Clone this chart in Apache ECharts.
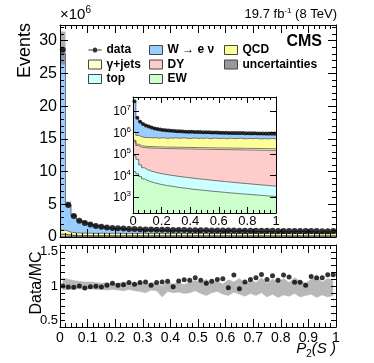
<!DOCTYPE html>
<html>
<head>
<meta charset="utf-8">
<script src="https://cdn.jsdelivr.net/npm/echarts@6/dist/echarts.min.js"></script>
<style>
  html, body { margin: 0; padding: 0; background: #fff; }
  #chart { width: 374px; height: 363px; }
</style>
</head>
<body>
<div id="chart"></div>
<script>
// yields in thousands of events, 50 bins of P2(S) between 0 and 1
const binEdges = [0, 0.02, 0.04, 0.06, 0.08, 0.1, 0.12, 0.14, 0.16, 0.18, 0.2,
  0.22, 0.24, 0.26, 0.28, 0.3, 0.32, 0.34, 0.36, 0.38, 0.4,
  0.42, 0.44, 0.46, 0.48, 0.5, 0.52, 0.54, 0.56, 0.58, 0.6,
  0.62, 0.64, 0.66, 0.68, 0.7, 0.72, 0.74, 0.76, 0.78, 0.8,
  0.82, 0.84, 0.86, 0.88, 0.9, 0.92, 0.94, 0.96, 0.98, 1];

const dataYield = [28600, 4900, 3200, 2500, 2150, 1900, 1700, 1550, 1450, 1380,
  1320, 1280, 1240, 1210, 1180, 1160, 1140, 1120, 1100, 1090,
  1080, 1070, 1060, 1050, 1040, 1030, 1020, 1010, 1000, 990,
  980, 980, 970, 960, 960, 950, 950, 940, 940, 930,
  930, 920, 920, 910, 910, 900, 900, 890, 890, 900];

const wYield = [27000, 4200, 2600, 1900, 1630, 1340, 1130, 990, 860, 750,
  740, 680, 610, 610, 550, 520, 560, 500, 470, 450,
  530, 440, 410, 410, 370, 400, 430, 390, 360, 340,
  450, 290, 460, 360, 330, 300, 270, 310, 270, 310,
  260, 270, 330, 320, 360, 250, 270, 260, 230, 240];

const qcdYield = [600, 450, 400, 360, 350, 360, 340, 370, 330, 350,
  360, 320, 350, 340, 370, 330, 350, 360, 340, 320,
  350, 360, 330, 350, 340, 370, 320, 350, 360, 330,
  340, 350, 320, 360, 340, 330, 350, 360, 320, 340,
  350, 330, 360, 340, 320, 350, 330, 340, 350, 330];

const gjetsYield = [50, 40, 35, 32, 31, 30, 30, 30, 30, 30,
  30, 30, 30, 30, 30, 30, 30, 30, 30, 30,
  30, 30, 30, 30, 30, 29, 29, 29, 29, 29,
  29, 29, 29, 29, 29, 29, 29, 29, 29, 29,
  29, 29, 29, 29, 29, 29, 29, 29, 29, 29];

const dyYield = [300, 190, 180, 178, 176, 175, 174, 173, 172, 171,
  170, 169.5, 169, 168, 167.5, 167, 166, 165.5, 165, 164,
  163.5, 163, 162, 161.5, 161, 160, 159.5, 159, 158, 157.5,
  157, 156, 155.5, 155, 154, 153.5, 153, 152, 151.5, 151,
  150, 149.5, 149, 148, 147.5, 147, 146, 145.5, 145, 144];

const topYield = [70, 45, 22, 16, 13, 11.5, 10.5, 9.7, 9.0, 8.5,
  8.0, 7.6, 7.2, 6.9, 6.6, 6.3, 6.05, 5.8, 5.6, 5.4,
  5.2, 5.0, 4.85, 4.7, 4.55, 4.4, 4.25, 4.1, 3.98, 3.86,
  3.74, 3.62, 3.51, 3.4, 3.3, 3.2, 3.1, 3.0, 2.92, 2.84,
  2.76, 2.68, 2.6, 2.53, 2.46, 2.4, 2.34, 2.28, 2.22, 2.16];

const ewYield = [15, 12, 9, 7, 6, 5.3, 4.8, 4.4, 4.1, 3.8,
  3.6, 3.4, 3.25, 3.1, 2.95, 2.8, 2.7, 2.6, 2.5, 2.4,
  2.3, 2.23, 2.16, 2.09, 2.02, 1.96, 1.9, 1.85, 1.8, 1.75,
  1.7, 1.65, 1.6, 1.56, 1.52, 1.48, 1.44, 1.4, 1.37, 1.34,
  1.31, 1.28, 1.25, 1.22, 1.19, 1.16, 1.13, 1.1, 1.08, 1.05];

// data / MC and the relative MC uncertainty band
const ratio = [1.00, 0.985, 0.98, 1.00, 0.97, 0.99, 0.995, 0.985, 1.01, 1.04,
  1.01, 1.02, 1.05, 1.025, 1.05, 1.06, 1.01, 1.05, 1.06, 1.07,
  0.99, 1.075, 1.09, 1.085, 1.12, 1.085, 1.04, 1.07, 1.095, 1.105,
  0.975, 1.16, 0.96, 1.06, 1.095, 1.12, 1.17, 1.095, 1.15, 1.085,
  1.16, 1.13, 1.055, 1.055, 1.01, 1.14, 1.12, 1.12, 1.165, 1.165];

const bandLow = [0.94, 0.95, 0.95, 0.96, 0.95, 0.96, 0.95, 0.95, 0.94, 0.95,
  0.94, 0.93, 0.95, 0.93, 0.92, 0.90, 0.94, 0.93, 0.84, 0.92,
  0.90, 0.91, 0.89, 0.90, 0.93, 0.89, 0.86, 0.90, 0.92, 0.88,
  0.86, 0.91, 0.88, 0.85, 0.89, 0.86, 0.90, 0.84, 0.88, 0.83,
  0.87, 0.85, 0.89, 0.84, 0.86, 0.88, 0.83, 0.87, 0.84, 0.86];

const bandHigh = [1.12, 1.10, 1.08, 1.07, 1.06, 1.06, 1.05, 1.04, 1.05, 1.03,
  1.04, 1.06, 1.05, 1.03, 1.06, 1.02, 1.05, 1.04, 1.00, 1.06,
  1.03, 1.05, 1.02, 1.06, 1.08, 1.05, 1.10, 1.04, 1.07, 1.03,
  1.09, 1.06, 1.11, 1.04, 1.09, 1.05, 1.12, 1.04, 1.10, 1.06,
  1.11, 1.05, 1.12, 1.07, 1.04, 1.10, 1.13, 1.06, 1.11, 1.08];

const FONT = '"Liberation Sans", Arial, Helvetica, sans-serif';

// bottom -> top of the stack
const stackDefs = [
  { name: 'EW', vals: ewYield, color: '#ccffcc' },
  { name: 'top', vals: topYield, color: '#ccffff' },
  { name: 'DY', vals: dyYield, color: '#ffcccc' },
  { name: '\u03b3+jets', vals: gjetsYield, color: '#ffffcc' },
  { name: 'QCD', vals: qcdYield, color: '#ffff99' },
  { name: 'W \u2192 e \u03bd', vals: wYield, color: '#99ccff' }
];

const centers = dataYield.map((_, i) => (binEdges[i] + binEdges[i + 1]) / 2);

// running sums, so each histogram is drawn as the top of its part of the stack
let running = dataYield.map(() => 0);
stackDefs.forEach(d => {
  running = running.map((s, i) => s + d.vals[i]);
  d.cum = running;
});
const mcTotal = running;

function stepPoints(vals) {
  const pts = vals.map((v, i) => [binEdges[i], v]);
  pts.push([binEdges[vals.length], vals[vals.length - 1]]);
  return pts;
}

function frameAxis(extra) {
  return Object.assign({
    type: 'value', min: 0, max: 1, z: 10,
    axisLine: { show: true, onZero: false, lineStyle: { color: '#000', width: 1 } },
    axisTick: { show: true, inside: true, length: 8, lineStyle: { color: '#000' } },
    minorTick: { show: true, splitNumber: 5, length: 4, lineStyle: { color: '#000' } },
    axisLabel: { show: false },
    splitLine: { show: false },
    minorSplitLine: { show: false }
  }, extra);
}

function sup(v) {
  const e = Math.round(Math.log10(v)) + 3;
  return '{b|10}{e|' + e + '}';
}

const series = [];
// painter's order: largest running sum first, each next one drawn over it
stackDefs.slice().reverse().forEach(d => {
  [0, 2].forEach(idx => {
    series.push({
      name: d.name, type: 'line', xAxisIndex: idx, yAxisIndex: idx,
      step: 'end', data: stepPoints(d.cum), symbol: 'none', silent: true,
      lineStyle: { color: '#555', width: 0.8 },
      itemStyle: { color: d.color },
      areaStyle: { color: d.color, opacity: 1, origin: 'start' },
      z: 2
    });
  });
});

series.push({
  name: 'uncertainties', type: 'custom', xAxisIndex: 0, yAxisIndex: 0, z: 3, silent: true,
  itemStyle: { color: '#999' },
  encode: { x: [0, 1], y: [2, 3] },
  data: mcTotal.map((t, i) => [binEdges[i], binEdges[i + 1], t * bandLow[i], t * bandHigh[i]]),
  renderItem: (params, api) => {
    const p0 = api.coord([api.value(0), api.value(3)]);
    const p1 = api.coord([api.value(1), api.value(2)]);
    return {
      type: 'rect',
      shape: { x: p0[0], y: p0[1], width: p1[0] - p0[0], height: p1[1] - p0[1] },
      style: { fill: 'rgba(110,110,110,0.55)' }
    };
  }
});

series.push({
  name: 'data', type: 'scatter', xAxisIndex: 0, yAxisIndex: 0, z: 5,
  symbolSize: 6, itemStyle: { color: '#000' },
  data: dataYield.map((v, i) => [centers[i], v])
});
series.push({
  name: 'data', type: 'scatter', xAxisIndex: 2, yAxisIndex: 2, z: 5,
  symbolSize: 4, itemStyle: { color: '#000' },
  data: dataYield.map((v, i) => [centers[i], v])
});

// ratio panel: grey up to the band top, white again below the band bottom
series.push({
  type: 'line', xAxisIndex: 4, yAxisIndex: 4, symbol: 'none', silent: true, z: 2,
  lineStyle: { color: '#b8b8b8', width: 0.5 },
  areaStyle: { color: '#b8b8b8', opacity: 1, origin: 'start' },
  data: bandHigh.map((v, i) => [centers[i], v])
});
series.push({
  type: 'line', xAxisIndex: 4, yAxisIndex: 4, symbol: 'none', silent: true, z: 2,
  lineStyle: { color: '#b8b8b8', width: 0.5 },
  areaStyle: { color: '#fff', opacity: 1, origin: 'start' },
  data: bandLow.map((v, i) => [centers[i], v])
});
series.push({
  type: 'scatter', xAxisIndex: 4, yAxisIndex: 4, z: 5,
  symbolSize: 5, itemStyle: { color: '#000' },
  data: ratio.map((v, i) => [centers[i], v])
});

const legendCommon = {
  orient: 'vertical', itemGap: 2.5, itemWidth: 13, itemHeight: 9,
  selectedMode: false, padding: 0,
  textStyle: { fontFamily: FONT, fontWeight: 'bold', fontSize: 12, color: '#000', lineHeight: 12 }
};
function boxItem(name, color) {
  return { name: name, icon: 'rect', itemStyle: { color: color, borderColor: '#444', borderWidth: 1 } };
}
const dataIcon = 'path://M0,4.5L5,4.5A2.5,2.5 0 1 1 10,4.5L15,4.5L15,5.5L10,5.5A2.5,2.5 0 1 1 5,5.5L0,5.5Z';

const chart = echarts.init(document.getElementById('chart'), null, { renderer: 'canvas' });
chart.setOption({
  animation: false,
  backgroundColor: '#fff',
  textStyle: { fontFamily: FONT },
  grid: [
    { left: 60, top: 25, width: 276, height: 212, outerBoundsMode: 'none' },
    { left: 133, top: 97, width: 143, height: 116, show: true, backgroundColor: '#fff', borderWidth: 0, outerBoundsMode: 'none' },
    { left: 60, top: 245, width: 276, height: 82, outerBoundsMode: 'none' }
  ],
  xAxis: [
    frameAxis({ gridIndex: 0, position: 'bottom', interval: 0.1 }),
    frameAxis({ gridIndex: 0, position: 'top', interval: 0.1 }),
    frameAxis({ gridIndex: 1, position: 'bottom', interval: 0.2, axisTick: { show: true, inside: true, length: 6, lineStyle: { color: '#000' } },
      minorTick: { show: true, splitNumber: 5, length: 3, lineStyle: { color: '#000' } },
      axisLabel: { show: true, fontSize: 13, color: '#000', margin: 2, fontFamily: FONT } }),
    frameAxis({ gridIndex: 1, position: 'top', interval: 0.2, axisTick: { show: true, inside: true, length: 6, lineStyle: { color: '#000' } },
      minorTick: { show: true, splitNumber: 5, length: 3, lineStyle: { color: '#000' } } }),
    frameAxis({ gridIndex: 2, position: 'bottom', interval: 0.1,
      axisLabel: { show: true, fontSize: 14, color: '#000', margin: 4, fontFamily: FONT } }),
    frameAxis({ gridIndex: 2, position: 'top', interval: 0.1 })
  ],
  yAxis: [
    frameAxis({ gridIndex: 0, position: 'left', min: 0, max: 32400, interval: 5000,
      axisLabel: { show: true, fontSize: 16, color: '#000', margin: 3, showMaxLabel: false, fontFamily: FONT,
        formatter: v => String(v / 1000) } }),
    frameAxis({ gridIndex: 0, position: 'right', min: 0, max: 32400, interval: 5000 }),
    frameAxis({ gridIndex: 1, type: 'log', logBase: 10, position: 'left', min: 0.18, max: 45000,
      axisTick: { show: true, inside: true, length: 6, lineStyle: { color: '#000' } },
      minorTick: { show: false },
      axisLabel: { show: true, color: '#000', margin: 2, showMinLabel: false, showMaxLabel: false,
        formatter: sup,
        rich: {
          b: { fontSize: 12, fontFamily: FONT, color: '#000', verticalAlign: 'bottom' },
          e: { fontSize: 8, fontFamily: FONT, color: '#000', verticalAlign: 'bottom', padding: [0, 0, 6, 0] }
        } } }),
    frameAxis({ gridIndex: 1, type: 'log', logBase: 10, position: 'right', min: 0.18, max: 45000,
      axisTick: { show: true, inside: true, length: 6, lineStyle: { color: '#000' } },
      minorTick: { show: false } }),
    frameAxis({ gridIndex: 2, position: 'left', min: 0.4, max: 1.6, interval: 0.1,
      axisTick: { show: true, inside: true, length: 5, lineStyle: { color: '#000' } },
      minorTick: { show: false },
      axisLabel: { show: true, fontSize: 13, color: '#000', margin: 2, fontFamily: FONT,
        formatter: v => {
          const r = Math.round(v * 10) / 10;
          return (r === 0.5 || r === 1 || r === 1.5) ? String(r) : '';
        } } }),
    frameAxis({ gridIndex: 2, position: 'right', min: 0.4, max: 1.6, interval: 0.1,
      axisTick: { show: true, inside: true, length: 5, lineStyle: { color: '#000' } },
      minorTick: { show: false } })
  ],
  legend: [
    Object.assign({ left: 88, top: 44, data: [
      { name: 'data', icon: dataIcon, itemStyle: { color: '#000', borderWidth: 0 } },
      boxItem('\u03b3+jets', '#ffffcc'),
      boxItem('top', '#ccffff')
    ] }, legendCommon),
    Object.assign({ left: 149, top: 44, data: [
      boxItem('W \u2192 e \u03bd', '#99ccff'),
      boxItem('DY', '#ffcccc'),
      boxItem('EW', '#ccffcc')
    ] }, legendCommon),
    Object.assign({ left: 224, top: 44, data: [
      boxItem('QCD', '#ffff99'),
      boxItem('uncertainties', '#999999')
    ] }, legendCommon)
  ],
  graphic: [
    { type: 'text', x: 60, y: 22, z: 20, style: {
      text: '{a|\u00d710}{s|6}', verticalAlign: 'bottom',
      rich: { a: { fontSize: 15, fontFamily: FONT, verticalAlign: 'bottom' },
              s: { fontSize: 10, fontFamily: FONT, verticalAlign: 'bottom', padding: [0, 0, 7, 0] } } } },
    { type: 'text', x: 337, y: 21, z: 20, style: {
      text: '{a|19.7 fb}{s|-1}{a| (8 TeV)}', align: 'right', verticalAlign: 'bottom',
      rich: { a: { fontSize: 13, fontFamily: FONT, verticalAlign: 'bottom' },
              s: { fontSize: 8, fontFamily: FONT, verticalAlign: 'bottom', padding: [0, 0, 6, 0] } } } },
    { type: 'text', x: 322, y: 42, z: 20, style: {
      text: 'CMS', align: 'right', verticalAlign: 'middle', font: 'bold 16px ' + FONT, fill: '#000' } },
    { type: 'text', x: 25, y: 23, rotation: Math.PI / 2, z: 20, style: {
      text: 'Events', align: 'right', verticalAlign: 'middle', font: '18px ' + FONT, fill: '#000' } },
    { type: 'text', x: 37, y: 283, rotation: Math.PI / 2, z: 20, style: {
      text: 'Data/MC', align: 'center', verticalAlign: 'middle', font: '16px ' + FONT, fill: '#000' } },
    { type: 'text', x: 336, y: 359, z: 20, style: {
      text: '{i|P}{s|2}{i|(S )}', align: 'right', verticalAlign: 'bottom',
      rich: { i: { fontSize: 15, fontStyle: 'italic', fontFamily: FONT, verticalAlign: 'bottom', padding: [0, 0, 3, 0] },
              s: { fontSize: 10, fontFamily: FONT, verticalAlign: 'bottom' } } } }
  ],
  series: series
});
</script>
</body>
</html>
